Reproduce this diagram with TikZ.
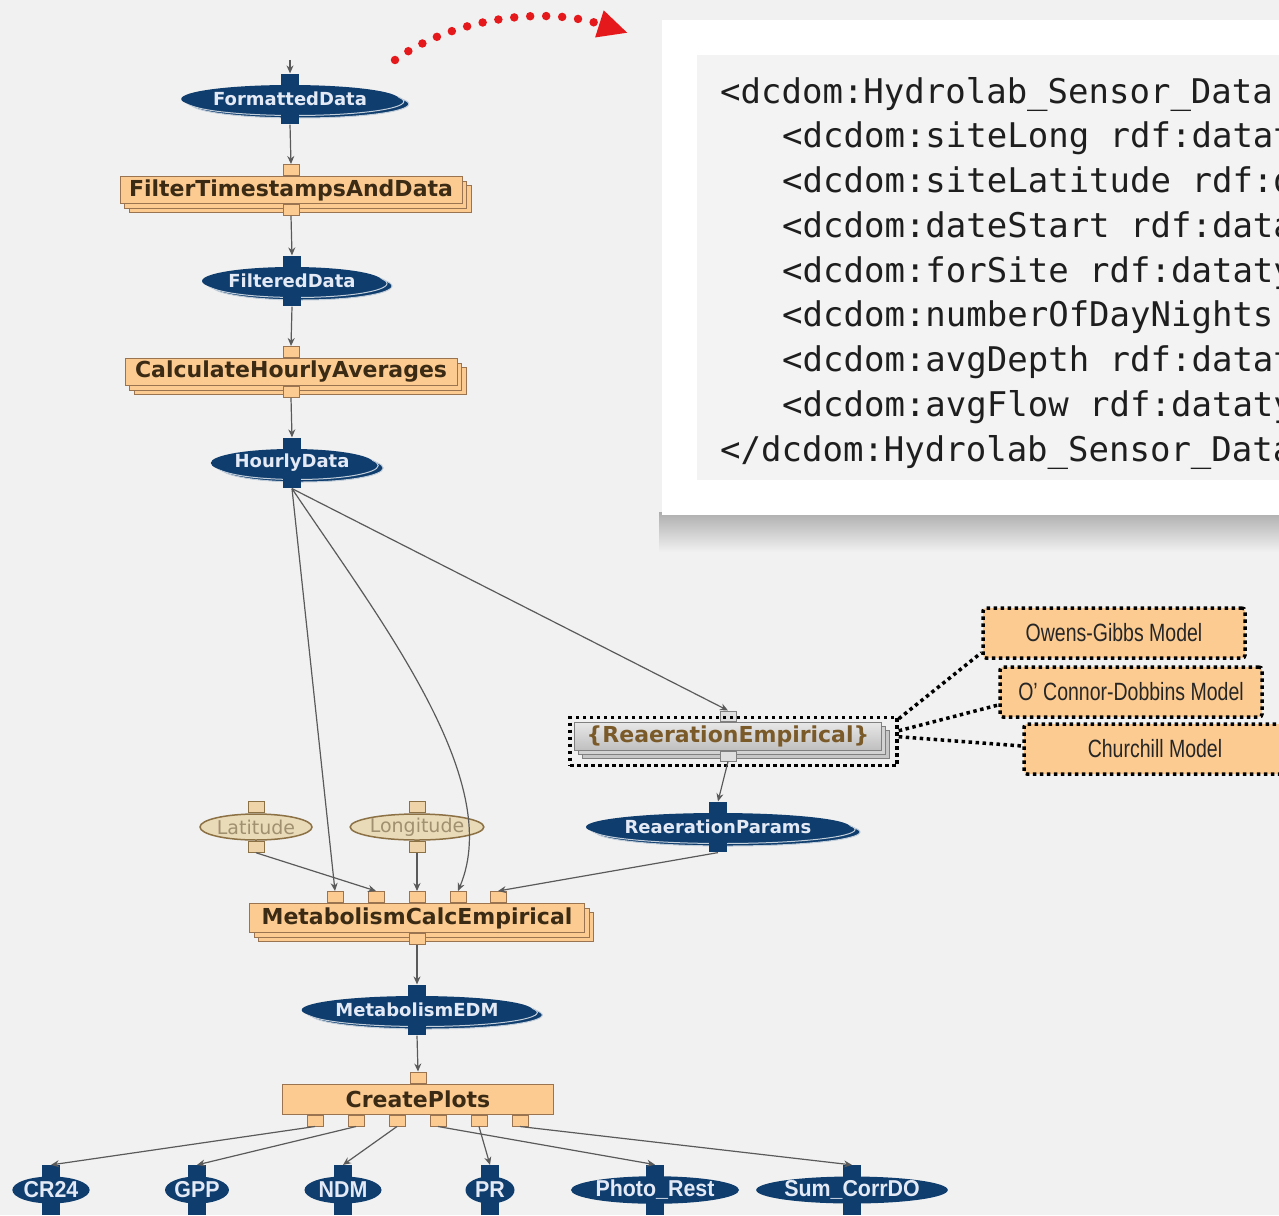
\documentclass[tikz,border=0pt]{standalone}
\usepackage{fontspec}
\usepackage{xcolor}
\usepackage{tikz}
\usetikzlibrary{shapes.geometric,arrows.meta,positioning,shadows,fit,calc}

\setsansfont{DejaVu Sans}
\setmonofont{DejaVu Sans Mono}
\newfontfamily\narrowfont[FakeStretch=0.78]{Liberation Sans}
\newfontfamily\plotfont[FakeStretch=0.93]{Liberation Sans}

\definecolor{bg}{HTML}{F1F1F1}
\definecolor{navy}{HTML}{0F3D6E}
\definecolor{navytext}{HTML}{E4EAF5}
\definecolor{peach}{HTML}{FBCB92}
\definecolor{peachline}{HTML}{9A7350}
\definecolor{comptext}{HTML}{3B2A14}
\definecolor{tan}{HTML}{E9DAB8}
\definecolor{tanline}{HTML}{8C7145}
\definecolor{tantext}{HTML}{A09070}
\definecolor{abstext}{HTML}{7B5A2A}
\definecolor{wire}{HTML}{5A5A5A}
\definecolor{linkred}{HTML}{E5191C}
\definecolor{codegray}{HTML}{F3F3F3}
\definecolor{codetext}{HTML}{1E1E1E}

\begin{document}
\begin{tikzpicture}[x=1pt, y=-1pt]

\tikzstyle{dataobj} = [ellipse, fill=navy, text=navytext, font=\sffamily\bfseries\fontsize{18}{18}\selectfont, inner sep=0pt, minimum height=28pt,
  copy shadow={shadow xshift=10pt, shadow yshift=-5pt, fill=navy, draw=white!75!navy, line width=1pt},
  copy shadow={shadow xshift=5pt, shadow yshift=-2.5pt, fill=navy, draw=white!75!navy, line width=1pt}]
\tikzstyle{plainobj} = [ellipse, fill=navy, text=navytext, font=\plotfont\bfseries\fontsize{23}{23}\selectfont, inner sep=0pt, minimum height=27pt]
\tikzstyle{dport} = [rectangle, fill=navy, minimum width=18pt, minimum height=14pt, inner sep=0pt]
\tikzstyle{comp} = [rectangle, fill=peach, draw=peachline, line width=1pt, text=comptext, font=\sffamily\bfseries\fontsize{22}{22}\selectfont, inner sep=0pt, minimum height=27pt,
  copy shadow={shadow xshift=9pt, shadow yshift=-9pt, fill=peach, draw=peachline},
  copy shadow={shadow xshift=4.5pt, shadow yshift=-4.5pt, fill=peach, draw=peachline}]
\tikzstyle{plaincomp} = [rectangle, fill=peach, draw=peachline, line width=1pt, text=comptext, font=\sffamily\bfseries\fontsize{22}{22}\selectfont, inner sep=0pt, minimum height=30pt]
\tikzstyle{cport} = [rectangle, fill=peach, draw=peachline, line width=1pt, minimum width=16pt, minimum height=11pt, inner sep=0pt]
\tikzstyle{param} = [ellipse, fill=tan, draw=tanline, line width=1.5pt, text=tantext, font=\sffamily\fontsize{19}{19}\selectfont, inner sep=0pt, minimum height=26pt]
\tikzstyle{pport} = [rectangle, fill=tan!60!peach, draw=tanline, line width=1pt, minimum width=16pt, minimum height=11pt, inner sep=0pt]
\tikzstyle{abstract} = [rectangle, top color=gray!18, bottom color=gray!50, draw=gray, line width=1pt, text=abstext, font=\sffamily\bfseries\fontsize{22}{22}\selectfont, inner sep=0pt, minimum height=28pt,
  copy shadow={shadow xshift=8pt, shadow yshift=-8pt, fill=gray!45, draw=gray},
  copy shadow={shadow xshift=4pt, shadow yshift=-4pt, fill=gray!35, draw=gray}]
\tikzstyle{aport} = [rectangle, fill=gray!25, draw=gray, line width=1pt, minimum width=16pt, minimum height=10pt, inner sep=0pt]
\tikzstyle{dotline} = [draw=black, line width=3.5pt, dash pattern=on 3.5pt off 3.5pt]
\tikzstyle{model} = [rectangle, fill=peach, dotline, rounded corners=3pt, minimum width=262pt, minimum height=50pt, inner sep=0pt, text=black!85, font=\narrowfont\fontsize{25}{25}\selectfont]
\tikzstyle{arrow} = [draw=wire, line width=1.2pt, -{Stealth[length=8pt,width=7pt]}]

\useasboundingbox (0,0) rectangle (1279,1215);
\clip (0,0) rectangle (1279,1215);
\fill[bg] (0,0) rectangle (1279,1215);

% metadata panel
\shade[top color=black!32, bottom color=bg] (659,512) rectangle (1279,552);
\fill[white] (662,20) rectangle (1300,515);
\fill[codegray] (697,55) rectangle (1300,480);
\foreach \i/\x/\t in {1/720/{<dcdom:Hydrolab\_Sensor\_Data},
                      2/782/{<dcdom:siteLong rdf:datat},
                      3/782/{<dcdom:siteLatitude rdf:d},
                      4/782/{<dcdom:dateStart rdf:data},
                      5/782/{<dcdom:forSite rdf:dataty},
                      6/782/{<dcdom:numberOfDayNights},
                      7/782/{<dcdom:avgDepth rdf:datat},
                      8/782/{<dcdom:avgFlow rdf:dataty},
                      9/720/{</dcdom:Hydrolab\_Sensor\_Data}}
  \node (code\i) [anchor=base west, inner sep=0pt, text=codetext, font=\ttfamily\fontsize{34}{34}\selectfont] at (\x,{103+(\i-1)*44.75}) {\t};

% workflow, top chain
\node (fd) [dataobj, minimum width=194pt] at (290,99) {FormattedData};
\node (fd-in) [dport, above=-3pt of fd] {};
\node (fd-out) [dport, below=-3pt of fd] {};

\node (ft) [comp, minimum width=342pt] at (291,190) {FilterTimestampsAndData};
\node (ft-in) [cport, above=0pt of ft] {};
\node (ft-out) [cport, below=0pt of ft] {};

\node (fdd) [dataobj, minimum width=162pt] at (292,281) {FilteredData};
\node (fdd-in) [dport, above=-3pt of fdd] {};
\node (fdd-out) [dport, below=-3pt of fdd] {};

\node (ch) [comp, minimum width=332pt] at (291,372) {CalculateHourlyAverages};
\node (ch-in) [cport, above=0pt of ch] {};
\node (ch-out) [cport, below=0pt of ch] {};

\node (hd) [dataobj, minimum width=150pt] at (292,463) {HourlyData};
\node (hd-in) [dport, above=-3pt of hd] {};
\node (hd-out) [dport, below=-3pt of hd] {};

% reaeration branch
\node (re) [abstract, minimum width=307pt] at (728,736) {\{ReaerationEmpirical\}};
\node (re-in) [aport, above=0pt of re] {};
\node (re-out) [aport, below=0pt of re] {};
\coordinate (re-nw) at ($(re.north west)+(-4,-4)$);
\coordinate (re-se) at ($(re.south east)+(15,15)$);
\node (reframe) [dotline, fit=(re-nw)(re-se), inner sep=0pt] {};

\node (og) [model] at (1114,633) {Owens-Gibbs Model};
\node (oc) [model] at (1131,692) {O’ Connor-Dobbins Model};
\node (chm) [model] at (1155,749) {Churchill Model};

\node (rp) [dataobj, minimum width=236pt] at (718,827) {ReaerationParams};
\node (rp-in) [dport, above=-3pt of rp] {};
\node (rp-out) [dport, below=-3pt of rp] {};

% site parameters
\node (lat) [param, minimum width=112pt] at (256,827) {Latitude};
\node (lat-in) [pport, above=0pt of lat] {};
\node (lat-out) [pport, below=0pt of lat] {};
\node (lon) [param, minimum width=133pt] at (417,827) {Longitude};
\node (lon-in) [pport, above=0pt of lon] {};
\node (lon-out) [pport, below=0pt of lon] {};

% metabolism
\node (mc) [comp, minimum width=335pt, minimum height=29pt] at (417,918) {MetabolismCalcEmpirical};
\foreach \i/\dx in {1/-82,2/-41,3/0,4/41,5/81}
  \node (mc-in\i) [cport, above=0pt of mc.north, xshift=\dx pt] {};
\node (mc-out) [cport, below=0pt of mc] {};

\node (edm) [dataobj, minimum width=208pt] at (417,1010) {MetabolismEDM};
\node (edm-in) [dport, above=-3pt of edm] {};
\node (edm-out) [dport, below=-3pt of edm] {};

\node (cp) [plaincomp, minimum width=271pt] at (418,1099) {CreatePlots};
\node (cp-in) [cport, above=0pt of cp] {};
\foreach \i/\dx in {1/-103,2/-62,3/-21,4/20,5/61,6/102}
  \node (cp-o\i) [cport, below=0pt of cp.south, xshift=\dx pt] {};

% plot outputs
\foreach \n/\x/\w/\t in {cr/51/77/CR24, gpp/197/60/GPP, ndm/343/77/NDM, pr/490/49/PR,
                         photo/655/155/Photo\_Rest, sum/852/171/Sum\_CorrDO} {
  \node (\n) [plainobj, minimum width=\w pt] at (\x,1190) {\t};
  \node (\n-in) [dport, above=-3pt of \n] {};
  \node (\n-out) [dport, below=-3pt of \n] {};
}

% connectors
\coordinate (fd-src) at (290,60);
\draw [arrow] (fd-src) -- (fd-in.north);
\draw [arrow] (fd-out.south) -- (ft-in.north);
\draw [arrow] (ft-out.south) -- (fdd-in.north);
\draw [arrow] (fdd-out.south) -- (ch-in.north);
\draw [arrow] (ch-out.south) -- (hd-in.north);
\draw [arrow] (hd-out.south) -- (mc-in1.north);
\draw [arrow] (hd-out.south) .. controls (380,620) and (505,780) .. (mc-in4.north);
\draw [arrow] (hd-out.south) -- (re-in.north);
\draw [arrow] (re-out.south) -- (rp-in.north);
\draw [arrow] (lat-out.south) -- (mc-in2.north);
\draw [arrow] (lon-out.south) -- (mc-in3.north);
\draw [arrow] (rp-out.south) -- (mc-in5.north);
\draw [arrow] (mc-out.south) -- (edm-in.north);
\draw [arrow] (edm-out.south) -- (cp-in.north);
\draw [arrow] (cp-o1.south) -- (cr-in.north);
\draw [arrow] (cp-o2.south) -- (gpp-in.north);
\draw [arrow] (cp-o3.south) -- (ndm-in.north);
\draw [arrow] (cp-o5.south) -- (pr-in.north);
\draw [arrow] (cp-o4.south) -- (photo-in.north);
\draw [arrow] (cp-o6.south) -- (sum-in.north);

\draw [dotline] ([yshift=-3pt]reframe.north east) -- ([yshift=7pt]og.south west);
\draw [dotline] ([yshift=-15pt]reframe.north east) -- ([yshift=-13pt]oc.west);
\draw [dotline] ([yshift=-21pt]reframe.north east) -- ([yshift=3pt]chm.west);

% link to the metadata panel
\coordinate (fd-link) at (395,60);
\coordinate (code-link) at (628,33);
\draw [linkred, line width=8.5pt, line cap=round, dash pattern=on 0pt off 16pt, -{Triangle[length=30pt,width=26pt]}]
  (fd-link) .. controls (450,20) and (540,5) .. (code-link);

\end{tikzpicture}
\end{document}
